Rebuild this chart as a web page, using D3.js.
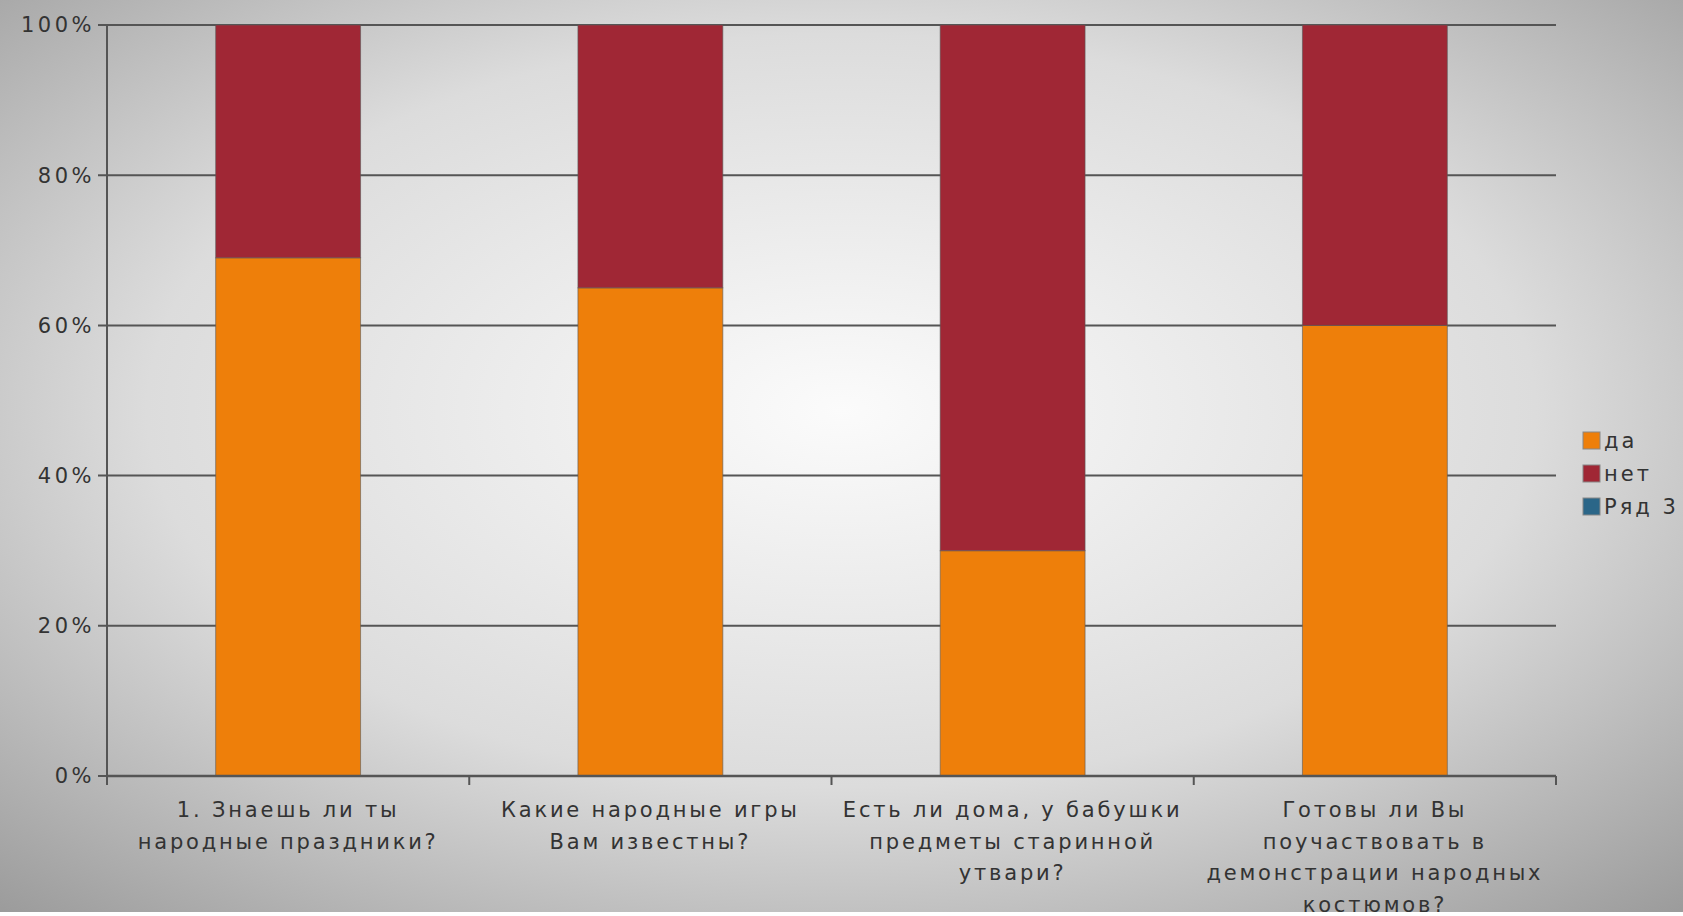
<!DOCTYPE html>
<html>
<head>
<meta charset="utf-8">
<script src="https://cdn.jsdelivr.net/npm/d3@7"></script>
<style>
  html, body { margin: 0; padding: 0; background: #fff; }
  svg { display: block; font-family: 'DejaVu Sans', Verdana, sans-serif; }
</style>
</head>
<body>
<svg id="chart" width="1683" height="916"></svg>
<script>
// data
const categories = [
  ['1. Знаешь ли ты', 'народные праздники?'],
  ['Какие народные игры', 'Вам известны?'],
  ['Есть ли дома, у бабушки', 'предметы старинной', 'утвари?'],
  ['Готовы ли Вы', 'поучаствовать в', 'демонстрации народных', 'костюмов?']
]
const seriesNames = ['да', 'нет', 'Ряд 3']
const yesValues = [69, 65, 30, 60]
const noValues = [31, 35, 70, 40]
const row3Values = [0, 0, 0, 0]
const yTicks = [0, 20, 40, 60, 80, 100]

const colors = ['#ee7f0a', '#a02735', '#2b6688']

const width = 1683
const height = 916
const margin = { top: 25, right: 127, bottom: 140, left: 107 }
const aWidth = width - margin.left - margin.right
const aHeight = height - margin.top - margin.bottom

const svg = d3.select('#chart')

// background radial gradient
const defs = svg.append('defs')
const grad = defs.append('radialGradient')
  .attr('id', 'bg')
  .attr('cx', '50%').attr('cy', '45%').attr('r', '75%')
grad.append('stop').attr('offset', '0%').attr('stop-color', '#fbfbfb')
grad.append('stop').attr('offset', '55%').attr('stop-color', '#dcdcdc')
grad.append('stop').attr('offset', '100%').attr('stop-color', '#9a9a9a')

svg.append('rect')
  .attr('width', width).attr('height', 912)
  .attr('fill', 'url(#bg)')

const g = svg.append('g')
  .attr('transform', 'translate(' + margin.left + ',' + margin.top + ')')

const xScale = d3.scaleBand()
  .domain(d3.range(categories.length))
  .range([0, aWidth])
  .paddingInner(0.6)
  .paddingOuter(0.3)

const xOuter = d3.scaleLinear().domain([0, categories.length]).range([0, aWidth])

const yScale = d3.scaleLinear().domain([0, 100]).range([aHeight, 0])

// gridlines
g.append('g')
  .selectAll('line')
  .data(yTicks)
  .join('line')
    .attr('x1', -9)
    .attr('x2', aWidth)
    .attr('y1', d => yScale(d))
    .attr('y2', d => yScale(d))
    .attr('stroke', '#555')
    .attr('stroke-width', 2)

// y tick labels
g.append('g')
  .selectAll('text')
  .data(yTicks)
  .join('text')
    .attr('x', -12)
    .attr('y', d => yScale(d))
    .attr('dy', '0.35em')
    .attr('text-anchor', 'end')
    .attr('fill', '#333')
    .style('font-size', '21px')
    .style('letter-spacing', '3.5px')
    .text(d => d + '%')

// stacked bars
const rows = categories.map((c, i) => ({ i, 'да': yesValues[i], 'нет': noValues[i], 'Ряд 3': row3Values[i] }))
const stacked = d3.stack().keys(seriesNames)(rows)

g.append('g')
  .selectAll('g')
  .data(stacked)
  .join('g')
    .attr('fill', (d, k) => colors[k])
  .selectAll('rect')
  .data(d => d)
  .join('rect')
    .attr('x', d => xScale(d.data.i))
    .attr('width', xScale.bandwidth())
    .attr('y', d => yScale(d[1]))
    .attr('height', d => yScale(d[0]) - yScale(d[1]))
    .attr('stroke', 'rgba(90,90,90,0.6)')
    .attr('stroke-width', d => d[1] > d[0] ? 1 : 0)

// y axis line
g.append('line')
  .attr('x1', 0).attr('x2', 0)
  .attr('y1', 0).attr('y2', aHeight + 9)
  .attr('stroke', '#555').attr('stroke-width', 2)

// x axis line and ticks
g.append('line')
  .attr('x1', 0).attr('x2', aWidth)
  .attr('y1', aHeight).attr('y2', aHeight)
  .attr('stroke', '#555').attr('stroke-width', 2.5)

g.append('g')
  .selectAll('line')
  .data(d3.range(categories.length + 1))
  .join('line')
    .attr('x1', d => xOuter(d))
    .attr('x2', d => xOuter(d))
    .attr('y1', aHeight)
    .attr('y2', aHeight + 9)
    .attr('stroke', '#555')
    .attr('stroke-width', 2)

// category labels
const labels = g.append('g')
  .selectAll('text')
  .data(categories)
  .join('text')
    .attr('x', (d, i) => xOuter(i + 0.5))
    .attr('y', aHeight + 41)
    .attr('text-anchor', 'middle')
    .attr('fill', '#333')
    .style('font-size', '21px')
    .style('letter-spacing', '2.8px')

labels.selectAll('tspan')
  .data(d => d)
  .join('tspan')
    .attr('x', function () { return d3.select(this.parentNode).attr('x') })
    .attr('dy', (d, k) => k === 0 ? 0 : 31.5)
    .text(d => d)

// legend
const legend = svg.append('g')
  .attr('transform', 'translate(1583,432)')

const items = legend.selectAll('g')
  .data(seriesNames)
  .join('g')
    .attr('transform', (d, k) => 'translate(0,' + k * 33 + ')')

items.append('rect')
  .attr('width', 17).attr('height', 17)
  .attr('fill', (d, k) => colors[k])
  .attr('stroke', '#888').attr('stroke-width', 1)

items.append('text')
  .attr('x', 21)
  .attr('y', 9)
  .attr('dy', '0.35em')
  .attr('fill', '#333')
  .style('font-size', '21px')
  .style('letter-spacing', '3px')
  .text(d => d)
</script>
</body>
</html>
